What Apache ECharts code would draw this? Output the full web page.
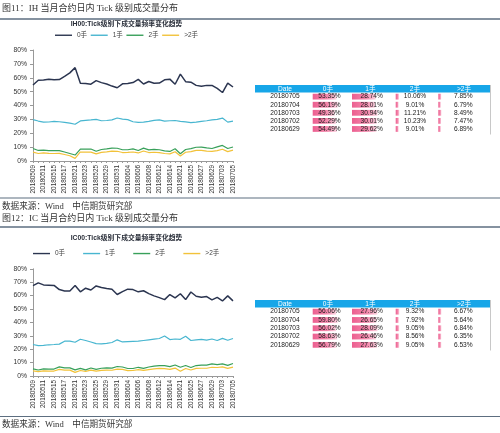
<!DOCTYPE html>
<html><head><meta charset="utf-8">
<script src="https://cdn.jsdelivr.net/npm/echarts@6/dist/echarts.min.js"></script>
<style>html,body{margin:0;padding:0;background:#fff}#c{width:500px;height:433px}</style>
</head><body><div id="c"></div>
<script>
// ---------- data ----------
const dates = ['20180509','20180510','20180511','20180514','20180515','20180516','20180517','20180518','20180521','20180522','20180523','20180524','20180525','20180528','20180529','20180530','20180531','20180601','20180604','20180605','20180606','20180607','20180608','20180611','20180612','20180613','20180614','20180619','20180621','20180622','20180625','20180626','20180627','20180628','20180629','20180702','20180703','20180704','20180705'];
const seriesNames = ['0手','1手','2手','>2手'];
const tableHeader = ['Date','0手','1手','2手','>2手'];

const ih0 = [54.8,58.2,58.4,58.9,58.5,58.7,61.0,63.5,67.3,56.0,55.8,55.4,57.9,56.5,55.5,54.0,52.8,55.6,55.9,56.5,58.8,55.5,57.3,56.0,56.2,58.5,59.0,55.3,62.6,57.2,56.8,54.5,53.8,54.5,54.49,52.29,49.36,56.19,53.35];
const ih1 = [29.8,28.8,28.0,28.1,28.6,28.3,27.8,27.3,26.5,28.9,29.3,29.6,30.0,29.0,29.2,29.6,31.0,30.2,29.8,28.3,27.8,28.0,28.6,29.3,29.6,28.8,29.0,29.2,28.6,28.2,27.6,28.0,28.6,29.0,29.62,30.01,30.94,28.01,28.74];
const ih2 = [9.0,7.6,7.8,7.5,7.5,7.5,6.5,5.4,4.3,8.6,8.5,8.6,7.0,8.3,8.7,9.3,9.2,8.1,8.1,8.7,7.6,9.3,8.0,8.4,8.1,7.3,6.9,8.8,5.2,8.3,8.9,9.9,10.0,9.4,9.01,10.23,11.21,9.01,10.06];
const ih3 = [6.4,5.4,5.8,5.5,5.4,5.5,4.7,3.8,1.9,6.5,6.4,6.4,5.1,6.2,6.6,7.1,7.0,6.1,6.2,6.5,5.8,7.2,6.1,6.3,6.1,5.4,5.1,6.7,3.6,6.3,6.7,7.6,7.6,7.1,6.89,7.47,8.49,6.79,7.85];

const ic0 = [67.4,69.5,68.0,67.8,67.6,64.5,63.5,63.5,67.5,62.8,65.5,64.2,67.2,66.0,65.3,64.8,60.8,63.0,64.8,64.5,62.8,63.6,61.5,59.8,58.5,57.0,60.8,58.3,61.4,57.0,62.7,59.5,58.8,59.3,56.79,58.63,56.02,59.80,56.06];
const ic1 = [23.5,22.7,22.9,23.3,23.5,23.8,26.0,26.0,25.2,27.4,26.5,25.4,24.2,24.0,24.3,25.0,27.0,25.4,25.6,25.8,26.0,26.5,27.0,27.5,28.0,29.8,27.2,27.6,27.4,29.6,26.5,27.0,27.3,26.8,27.63,26.46,28.09,26.65,27.96];
const ic2 = [5.3,4.5,5.3,5.2,5.2,6.8,6.1,6.1,4.6,5.7,4.6,6.0,5.0,5.8,6.0,5.9,7.1,6.7,5.6,5.6,6.5,5.7,6.7,7.4,7.8,7.7,7.0,8.2,6.5,7.8,6.3,7.8,8.1,8.1,9.05,8.56,9.05,7.92,9.32];
const ic3 = [3.8,3.3,3.8,3.7,3.7,4.9,4.4,4.4,2.7,4.1,3.4,4.4,3.6,4.2,4.4,4.3,5.1,4.9,4.0,4.1,4.7,4.2,4.8,5.3,5.7,5.5,5.0,5.9,3.5,5.6,4.5,5.7,5.8,5.8,6.53,6.35,6.84,5.64,6.67];

const figTitles = ['图11：IH 当月合约日内 Tick 级别成交量分布','图12：IC 当月合约日内 Tick 级别成交量分布'];
const chartTitles = ['IH00:Tick级别下成交量频率变化趋势','IC00:Tick级别下成交量频率变化趋势'];
const sourceText = '数据来源：Wind    中信期货研究部';

// ---------- styles ----------
const lineColors = ['#2b3550','#48b6d0','#38a05a','#f2c23a'];
const FONT = '"Liberation Sans","Noto Sans CJK SC",sans-serif';
const panels = [
  {data:[ih0,ih1,ih2,ih3], grid:{left:33, top:50, width:200, height:111},
   legend:{left:55, top:32, itemGap:3.6}, figY:9, lineTop:19, titleY:24.5,
   table:{headTop:85, headH:7.6, rowH:8.08}, srcLine:198, srcY:207},
  {data:[ic0,ic1,ic2,ic3], grid:{left:33, top:268.8, width:200, height:107.2},
   legend:{left:33, top:250.3, itemGap:18}, figY:219, lineTop:227, titleY:238.5,
   table:{headTop:300, headH:7.5, rowH:8.3}, srcLine:416.5, srcY:425}
];
const tblLeft = 255, tblRight = 490;
const headerX = [285, 328, 370.5, 415, 464];
const barStart = [312.7, 352, 395.7, 438.3];
const barFull = [25, 25.5, 3.6, 3.1];
const labelOff = [16.8, 19.7, 19.3, 25];

const grid = [], xAxis = [], yAxis = [], series = [], legend = [], graphic = [];

panels.forEach((p, pi) => {
  // line chart
  const gi = grid.length;
  grid.push(Object.assign({containLabel:false}, p.grid));
  xAxis.push({gridIndex:gi, type:'category', data:dates, boundaryGap:false,
    axisLine:{lineStyle:{color:'#999', width:1}},
    axisTick:{show:true, interval:0, length:2, lineStyle:{color:'#999'}},
    axisLabel:{interval:1, rotate:90, fontSize:6.4, color:'#333', margin:4, fontFamily:FONT},
    splitLine:{show:false}});
  yAxis.push({gridIndex:gi, type:'value', min:0, max:80, interval:10,
    axisLine:{show:true, lineStyle:{color:'#999', width:1}},
    axisTick:{show:true, length:3, lineStyle:{color:'#999'}},
    axisLabel:{formatter:'{value}%', fontSize:6.8, color:'#333', margin:6, fontFamily:FONT},
    splitLine:{show:false}});
  p.data.forEach((arr, si) => {
    series.push({type:'line', name:seriesNames[si], xAxisIndex:gi, yAxisIndex:gi,
      data:arr, symbol:'none', smooth:false, silent:true,
      lineStyle:{color:lineColors[si], width: si===0 ? 1.5 : 1.2},
      itemStyle:{color:lineColors[si]}, z: 10 - si});
  });
  legend.push({data:seriesNames, left:p.legend.left, top:p.legend.top, itemGap:p.legend.itemGap,
    itemWidth:17, itemHeight:1.4, icon:'rect', padding:0, selectedMode:false,
    textStyle:{fontSize:6.5, color:'#444', fontFamily:FONT}});

  // table with data bars
  const rows = dates.slice(-5).reverse();
  const t = p.table;
  const gTop = t.headTop + t.headH;
  for (let c = 0; c < 4; c++) {
    const vals = p.data[c].slice(-5).reverse();
    const g = grid.length;
    grid.push({left:barStart[c], top:gTop, width:barFull[c], height:t.rowH*5, containLabel:false});
    xAxis.push({gridIndex:g, type:'value', min:0, max:Math.max(...vals), show:false});
    yAxis.push({gridIndex:g, type:'category', data:rows, inverse:true,
      axisLine:{show:false}, axisTick:{show:false}, splitLine:{show:false},
      axisLabel:{show: c===0, interval:0, hideOverlap:false, align:'center', margin: barStart[0]-headerX[0], fontSize:6.6, color:'#222', fontFamily:FONT}});
    series.push({type:'bar', xAxisIndex:g, yAxisIndex:g, data:vals, barWidth:5.8, silent:true,
      itemStyle:{color:new echarts.graphic.LinearGradient(0,0,1,0,[
        {offset:0,color:'#ec5f90'},{offset:0.6,color:'#f387ab'},{offset:1,color:'#fbd3e1'}])},
      label:{show:true, position:[labelOff[c], '50%'], align:'center', verticalAlign:'middle',
        fontSize:6.6, color:'#222', fontFamily:FONT,
        formatter: q => q.value.toFixed(2) + '%'}});
  }
  // header row
  graphic.push({type:'rect', silent:true, shape:{x:tblLeft, y:t.headTop, width:tblRight-tblLeft, height:t.headH},
    style:{fill:'#17a6e8'}});
  tableHeader.forEach((h, i) => {
    graphic.push({type:'text', silent:true, style:{text:h, x:headerX[i], y:t.headTop + t.headH/2,
      textAlign:'center', align:'center', textVerticalAlign:'middle', verticalAlign:'middle',
      font:'6.6px ' + FONT, fill:'#fff'}});
  });
  graphic.push({type:'line', silent:true, shape:{x1:tblRight+0.5, y1:t.headTop, x2:tblRight+0.5, y2:gTop + t.rowH*5 + 1.5},
    style:{stroke:'#c8c8c8', lineWidth:1}});

  // page texts
  graphic.push({type:'text', silent:true, style:{text:figTitles[pi], x:2, y:p.figY,
    textVerticalAlign:'middle', verticalAlign:'middle',
    font:'9px "Liberation Serif","Noto Sans CJK SC",serif', fill:'#333'}});
  graphic.push({type:'line', silent:true, shape:{x1:0, y1:p.lineTop, x2:500, y2:p.lineTop},
    style:{stroke:'#5d6e80', lineWidth:1.4}});
  graphic.push({type:'text', silent:true, style:{text:chartTitles[pi], x:126.5, y:p.titleY,
    textAlign:'center', align:'center', textVerticalAlign:'middle', verticalAlign:'middle',
    font:'bold 6.8px ' + FONT, fill:'#2a2f3a'}});
  graphic.push({type:'line', silent:true, shape:{x1:0, y1:p.srcLine, x2:500, y2:p.srcLine},
    style:{stroke:'#5d6e80', lineWidth:1.2}});
  graphic.push({type:'text', silent:true, style:{text:sourceText, x:2, y:p.srcY,
    textVerticalAlign:'middle', verticalAlign:'middle',
    font:'8.6px "Liberation Serif","Noto Sans CJK SC",serif', fill:'#333'}});
});

const chart = echarts.init(document.getElementById('c'), null, {renderer:'canvas'});
chart.setOption({
  animation:false,
  backgroundColor:'#fff',
  textStyle:{fontFamily:FONT},
  grid, xAxis, yAxis, series, legend, graphic
});
</script>
</body></html>
